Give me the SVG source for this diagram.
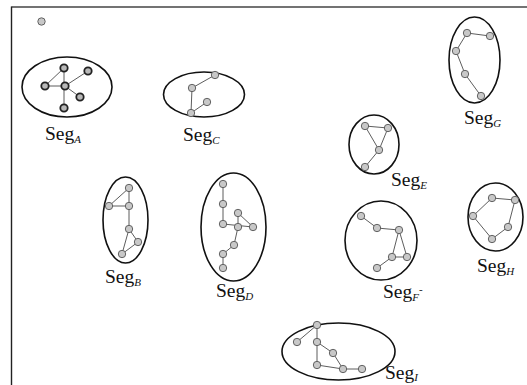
<svg xmlns="http://www.w3.org/2000/svg" width="527" height="385" viewBox="0 0 527 385">
<style>
.seg{fill:none;stroke:#111;stroke-width:1.6}
.e{stroke:#333;stroke-width:0.8;fill:none}
.n{fill:#c8c8c8;stroke:#555;stroke-width:0.9}
.nA{fill:#b8b8b8;stroke:#222;stroke-width:1.8}
.lbl{font-family:'Liberation Serif','Times New Roman',serif;font-size:19.5px;fill:#111}
.sub{font-family:'Liberation Serif','Times New Roman',serif;font-size:11px;font-style:italic;fill:#111}
</style>
<rect width="527" height="385" fill="#fff"/>
<g id="frame">
<line x1="11.5" y1="7" x2="527" y2="7" stroke="#444" stroke-width="1.6"/>
<line x1="11.5" y1="6.5" x2="11.5" y2="385" stroke="#222" stroke-width="1.4"/>
<circle cx="41.5" cy="21.5" r="3.7" class="n"/>
</g>
<g id="connectors">
<path class="e" d="M45,86L64,68M45,86L65,86L88,71M64,68L64,108M65,86L80,97"/>
<path class="e" d="M215,75L192,88L191,113L207,102"/>
<path class="e" d="M490,36L467,33L456,51L465,74L481,96"/>
<path class="e" d="M365,126L388,128L379,150L365,126M379,150L365,167"/>
<path class="e" d="M129,188L109,206L129,206L129,229L138,242L122,254L129,229M129,188L129,206"/>
<path class="e" d="M223,184L223,224L253,227L238,213L238,227L234,245L223,254L223,268"/>
<path class="e" d="M361,216L377,228L399,230L392,257L407,257L399,230M392,257L377,268"/>
<path class="e" d="M515,200L492,198L473,216L492,239L508,227L515,200"/>
<path class="e" d="M297,342L317,325L317,365L343,369L362,369M317,342L333,353L343,369"/>
</g>
<g id="segA">
<ellipse class="seg" cx="67" cy="87" rx="45" ry="30"/>
<circle class="nA" cx="64" cy="68" r="3.7"/><circle class="nA" cx="88" cy="71" r="3.7"/><circle class="nA" cx="45" cy="86" r="3.7"/><circle class="nA" cx="65" cy="86" r="3.7"/><circle class="nA" cx="80" cy="97" r="3.7"/><circle class="nA" cx="64" cy="108" r="3.7"/>
<text class="lbl" x="45" y="140" font-family="Liberation Serif, serif">Seg<tspan class="sub" dy="3">A</tspan></text>
</g>
<g id="segC">
<ellipse class="seg" cx="204" cy="94.5" rx="40.5" ry="22.5"/>
<circle class="n" cx="215" cy="75" r="3.7"/><circle class="n" cx="192" cy="88" r="3.7"/><circle class="n" cx="207" cy="102" r="3.7"/><circle class="n" cx="191" cy="113" r="3.7"/>
<text class="lbl" x="183" y="141" font-family="Liberation Serif, serif">Seg<tspan class="sub" dy="3">C</tspan></text>
</g>
<g id="segG">
<ellipse class="seg" cx="474.5" cy="60" rx="25.5" ry="43"/>
<circle class="n" cx="467" cy="33" r="3.7"/><circle class="n" cx="490" cy="36" r="3.7"/><circle class="n" cx="456" cy="51" r="3.7"/><circle class="n" cx="465" cy="74" r="3.7"/><circle class="n" cx="481" cy="96" r="3.7"/>
<text class="lbl" x="464" y="124" font-family="Liberation Serif, serif">Seg<tspan class="sub" dy="3">G</tspan></text>
</g>
<g id="segE">
<ellipse class="seg" cx="374" cy="144.5" rx="25" ry="29.5"/>
<circle class="n" cx="365" cy="126" r="3.7"/><circle class="n" cx="388" cy="128" r="3.7"/><circle class="n" cx="379" cy="150" r="3.7"/><circle class="n" cx="365" cy="167" r="3.7"/>
<text class="lbl" x="391" y="186" font-family="Liberation Serif, serif">Seg<tspan class="sub" dy="3">E</tspan></text>
</g>
<g id="segB">
<ellipse class="seg" cx="125.5" cy="220" rx="22.5" ry="43"/>
<circle class="n" cx="129" cy="188" r="3.7"/><circle class="n" cx="109" cy="206" r="3.7"/><circle class="n" cx="129" cy="206" r="3.7"/><circle class="n" cx="129" cy="229" r="3.7"/><circle class="n" cx="138" cy="242" r="3.7"/><circle class="n" cx="122" cy="254" r="3.7"/>
<text class="lbl" x="105" y="283" font-family="Liberation Serif, serif">Seg<tspan class="sub" dy="3">B</tspan></text>
</g>
<g id="segD">
<ellipse class="seg" cx="233.5" cy="227" rx="32.5" ry="54"/>
<circle class="n" cx="223" cy="184" r="3.7"/><circle class="n" cx="223" cy="204" r="3.7"/><circle class="n" cx="223" cy="224" r="3.7"/><circle class="n" cx="238" cy="213" r="3.7"/><circle class="n" cx="238" cy="227" r="3.7"/><circle class="n" cx="253" cy="227" r="3.7"/><circle class="n" cx="234" cy="245" r="3.7"/><circle class="n" cx="223" cy="254" r="3.7"/><circle class="n" cx="223" cy="268" r="3.7"/>
<text class="lbl" x="216" y="297" font-family="Liberation Serif, serif">Seg<tspan class="sub" dy="3">D</tspan></text>
</g>
<g id="segF">
<ellipse class="seg" cx="381" cy="240.5" rx="36" ry="39.5"/>
<circle class="n" cx="361" cy="216" r="3.7"/><circle class="n" cx="377" cy="228" r="3.7"/><circle class="n" cx="399" cy="230" r="3.7"/><circle class="n" cx="392" cy="257" r="3.7"/><circle class="n" cx="407" cy="257" r="3.7"/><circle class="n" cx="377" cy="268" r="3.7"/>
<text class="lbl" x="383" y="298" font-family="Liberation Serif, serif">Seg<tspan class="sub" dy="3">F</tspan><tspan class="sub" dy="-8" font-size="6">-</tspan></text>
</g>
<g id="segH">
<ellipse class="seg" cx="495.5" cy="217" rx="27.5" ry="34"/>
<circle class="n" cx="492" cy="198" r="3.7"/><circle class="n" cx="515" cy="200" r="3.7"/><circle class="n" cx="473" cy="216" r="3.7"/><circle class="n" cx="508" cy="227" r="3.7"/><circle class="n" cx="492" cy="239" r="3.7"/>
<text class="lbl" x="477" y="272" font-family="Liberation Serif, serif">Seg<tspan class="sub" dy="3">H</tspan></text>
</g>
<g id="segI">
<ellipse class="seg" cx="338.5" cy="351.5" rx="56.5" ry="28.5"/>
<circle class="n" cx="317" cy="325" r="3.7"/><circle class="n" cx="297" cy="342" r="3.7"/><circle class="n" cx="317" cy="342" r="3.7"/><circle class="n" cx="333" cy="353" r="3.7"/><circle class="n" cx="317" cy="365" r="3.7"/><circle class="n" cx="343" cy="369" r="3.7"/><circle class="n" cx="362" cy="369" r="3.7"/>
<text class="lbl" x="385" y="379" font-family="Liberation Serif, serif">Seg<tspan class="sub" dy="2">I</tspan></text>
</g>
</svg>
